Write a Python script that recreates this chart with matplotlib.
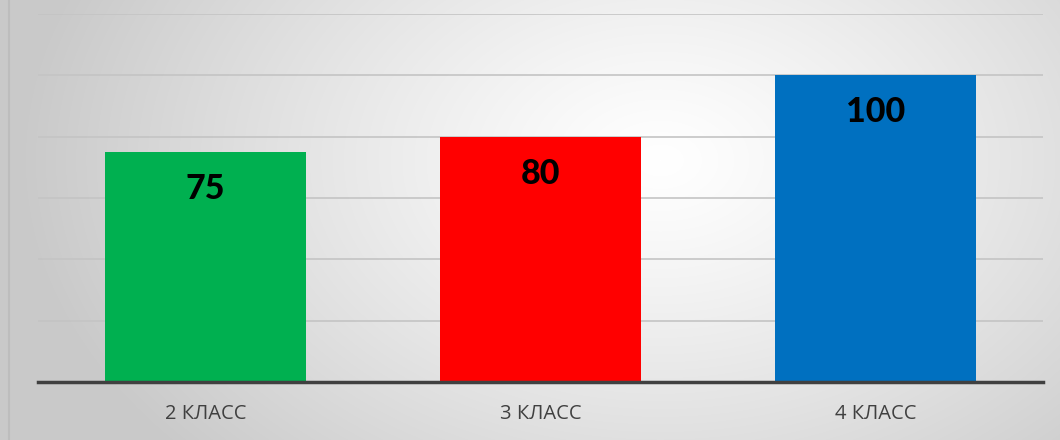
import numpy as np
import matplotlib
matplotlib.use("Agg")
import matplotlib.pyplot as plt
from matplotlib.lines import Line2D

categories = ["2 КЛАСС", "3 КЛАСС", "4 КЛАСС"]
values = [75, 80, 100]
colors = ["#00B050", "#FF0000", "#0070C0"]

W, H = 1060, 440
fig = plt.figure(figsize=(W / 100, H / 100), dpi=100)

# radial gradient background
bg = fig.add_axes([0, 0, 1, 1], zorder=-2)
yy, xx = np.mgrid[0:H, 0:W]
cx, cy = 660, 160
r = np.sqrt(((xx - cx) / 640.0) ** 2 + ((yy - cy) / 440.0) ** 2)
r = np.clip(r, 0, 1)
val = 1.0 - 0.21 * r ** 1.2
img = np.dstack([val, val, val])
bg.imshow(img, aspect="auto", extent=[0, W, H, 0])
bg.set_xlim(0, W)
bg.set_ylim(H, 0)
bg.axis("off")
bg.add_line(Line2D([9, 9], [0, H], color="#bdbdbd", lw=1.5))

left, right = 38, 1043
bottom, top = 382, 14
ax = fig.add_axes([left / W, (H - bottom) / H, (right - left) / W, (bottom - top) / H])
ax.set_facecolor("none")
x = np.arange(len(categories))
ax.bar(x, values, width=0.6, color=colors, zorder=3)
ax.set_xlim(-0.5, len(categories) - 0.5)
ax.set_ylim(0, 120)
ax.set_yticks(np.arange(0, 121, 20))
ax.yaxis.grid(True, color="#c4c4c4", lw=1.2, zorder=0)
ax.tick_params(axis="y", left=False, labelleft=False)
for s in ["left", "right", "top"]:
    ax.spines[s].set_visible(False)
ax.spines["bottom"].set_color("#404040")
ax.spines["bottom"].set_linewidth(2.5)
ax.spines["bottom"].set_zorder(4)
ax.set_xticks(x)
ax.set_xticklabels(categories, fontsize=14.5, color="#404040", family=["Open Sans", "DejaVu Sans"])
ax.tick_params(axis="x", length=0, pad=15.5)

for xi, v in zip(x, values):
    ax.annotate(str(v), xy=(xi, v), xytext=(0, -37), textcoords="offset pixels",
                ha="center", va="center", fontsize=24.5, fontweight="black",
                color="black", family=["Lato", "DejaVu Sans"], zorder=5)

fig.savefig("out.png", dpi=100)
